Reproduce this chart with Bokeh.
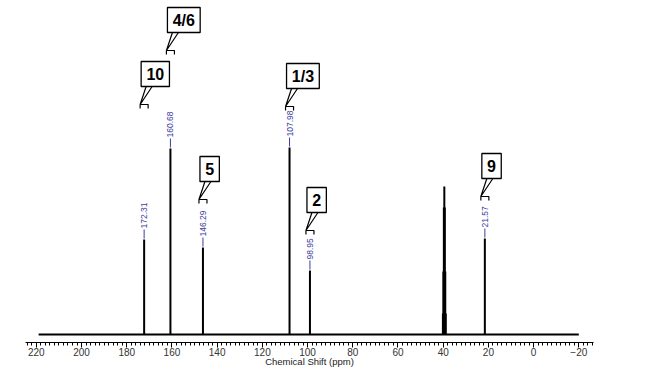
import math
from bokeh.plotting import figure
from bokeh.models import Range1d, SingleIntervalTicker
from bokeh.core.properties import value
from bokeh.embed import file_html
from bokeh.resources import INLINE

# ---- data ----
peak_ppm = [172.31, 160.68, 146.29, 107.98, 98.95, 21.57]
peak_height = [95, 186, 87, 187, 64, 96]
peak_labels = ["172.31", "160.68", "146.29", "107.98", "98.95", "21.57"]

solvent_ppm = [38.87, 39.08, 39.29, 39.50, 39.71, 39.92, 40.13]
solvent_height = [21, 63, 127, 148, 127, 63, 21]

assign_labels = ["10", "4/6", "5", "1/3", "2", "9"]
assign_ppm = [172.31, 160.68, 146.29, 107.98, 98.95, 21.57]
assign_level = [230, 284, 135, 228, 104, 138]

baseline_ppm = [219, -20]
baseline_val = [0, 0]

# ---- figure geometry ----
X_START, X_END = 224.8, -26.5
Y_START, Y_END = -8, 334
W, H = 608, 374
BL, BR, BT, BB = 25, 15, 0, 32
frame_w = W - BL - BR
frame_h = H - BT - BB
ppx = frame_w / (X_START - X_END)       # px per ppm
ypx = frame_h / (Y_END - Y_START)       # px per y unit

p = figure(width=W, height=H, output_backend="svg", toolbar_location=None,
           x_range=Range1d(X_START, X_END), y_range=Range1d(Y_START, Y_END),
           y_axis_location=None, min_border_left=BL, min_border_right=BR,
           min_border_top=BT, min_border_bottom=BB)
p.grid.visible = False
p.outline_line_color = None
p.background_fill_color = "white"
p.border_fill_color = "white"

ax = p.xaxis[0]
ax.ticker = SingleIntervalTicker(interval=20, num_minor_ticks=10)
ax.axis_label = "Chemical Shift (ppm)"
ax.axis_label_text_font = "Liberation Sans"
ax.axis_label_text_font_size = "9.5px"
ax.axis_label_text_font_style = "normal"
ax.axis_label_text_color = "#222222"
ax.axis_label_standoff = -3
ax.major_label_text_font = "Liberation Sans"
ax.major_label_text_font_size = "10px"
ax.major_label_text_color = "#333333"
ax.major_label_standoff = 0
ax.axis_line_color = "black"
ax.major_tick_line_color = "black"
ax.minor_tick_line_color = "black"
ax.major_tick_out = 5
ax.major_tick_in = 0
ax.minor_tick_out = 3
ax.minor_tick_in = 0

# baseline
p.line(baseline_ppm, baseline_val, line_color="black", line_width=2)

# peaks
p.segment(x0=peak_ppm, y0=[0] * len(peak_ppm), x1=peak_ppm, y1=peak_height,
          line_color="black", line_width=2)
p.segment(x0=solvent_ppm, y0=[0] * len(solvent_ppm), x1=solvent_ppm, y1=solvent_height,
          line_color="black", line_width=2)

# peak labels (blue, vertical)
blue = "#3c3ca0"
dash_lo = [h + 1 / ypx for h in peak_height]
dash_hi = [h + 10 / ypx for h in peak_height]
p.segment(x0=peak_ppm, y0=dash_lo, x1=peak_ppm, y1=dash_hi, line_color=blue, line_width=1)
p.text(x=peak_ppm, y=[h + 11 / ypx for h in peak_height], text=peak_labels,
       angle=math.pi / 2, text_align="left", text_baseline="middle",
       text_font=value("Liberation Sans"), text_font_size="8.5px", text_color=blue)

# assignment callouts
def sx(P, dx):
    return P - dx / ppx

def sy(A, dy):
    return A + dy / ypx

char_w = {"/": 4.45}
box_h = 25
tail_len = 18
br_xs, br_ys, tail_xs, tail_ys = [], [], [], []
box_x, box_y, box_w = [], [], []
for lab, P, A in zip(assign_labels, assign_ppm, assign_level):
    # bracket
    br_xs.append([sx(P, -4), sx(P, -4), sx(P, 4), sx(P, 4)])
    br_ys.append([sy(A, -4), A, A, sy(A, -4)])
    # tail (two lines from tip to box bottom)
    tail_xs.append([sx(P, 2), sx(P, -4), sx(P, 8)])
    tail_ys.append([sy(A, tail_len), A, sy(A, tail_len)])
    tw = sum(char_w.get(c, 8.9) for c in lab)
    w = tw + 10.5
    box_w.append(w)
    box_x.append(sx(P, -3 + w / 2))
    box_y.append(sy(A, tail_len + box_h / 2))

p.multi_line(br_xs, br_ys, line_color="black", line_width=1.2)
p.multi_line(tail_xs, tail_ys, line_color="black", line_width=1.2)
p.rect(x=box_x, y=box_y, width=box_w, height=[box_h] * len(box_x),
       width_units="screen", height_units="screen",
       fill_color="white", line_color="black", line_width=1.3)
p.text(x=box_x, y=box_y, text=assign_labels, text_align="center", text_baseline="middle",
       text_font=value("Liberation Sans"), text_font_size="16px", text_font_style="bold",
       text_color="black")

open("out.html", "w").write(file_html(p, INLINE))
